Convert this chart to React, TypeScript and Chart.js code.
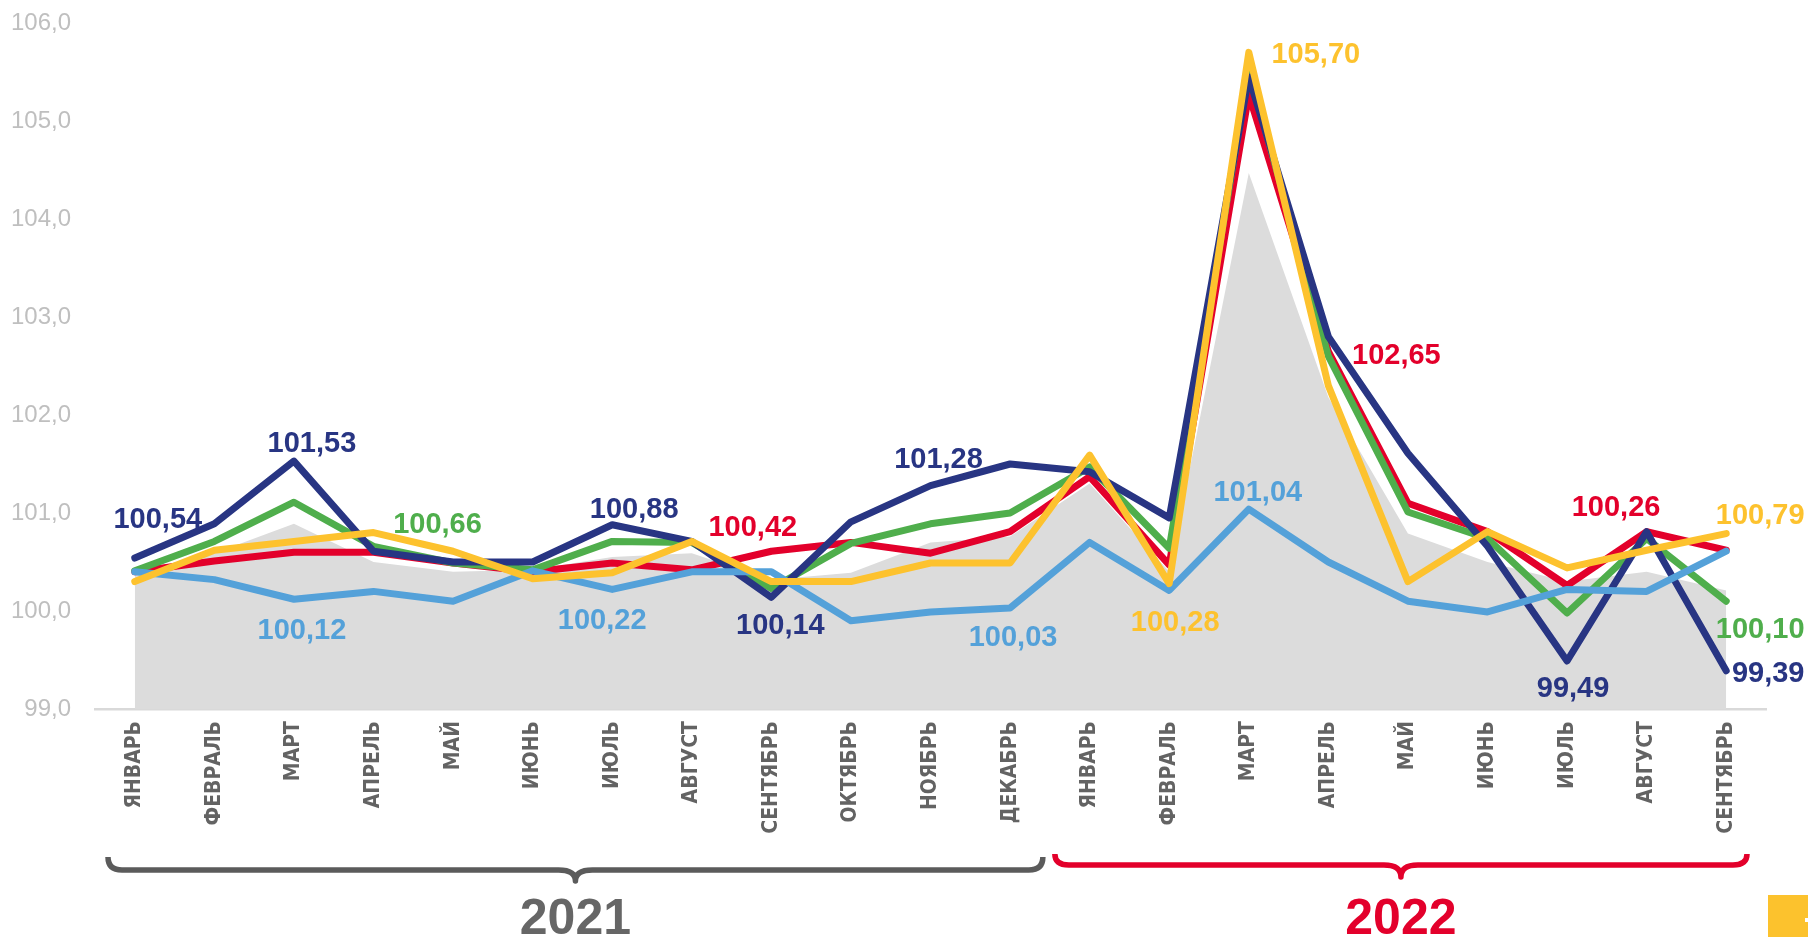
import React, { useEffect, useRef } from 'react';
import { Chart, registerables } from 'chart.js';

Chart.register(...registerables);

// ---------- data ----------
const months = [
  'ЯНВАРЬ', 'ФЕВРАЛЬ', 'МАРТ', 'АПРЕЛЬ', 'МАЙ', 'ИЮНЬ', 'ИЮЛЬ', 'АВГУСТ', 'СЕНТЯБРЬ', 'ОКТЯБРЬ', 'НОЯБРЬ', 'ДЕКАБРЬ',
  'ЯНВАРЬ', 'ФЕВРАЛЬ', 'МАРТ', 'АПРЕЛЬ', 'МАЙ', 'ИЮНЬ', 'ИЮЛЬ', 'АВГУСТ', 'СЕНТЯБРЬ',
];

const navySeries = [100.54, 100.89, 101.53, 100.61, 100.5, 100.5, 100.88, 100.71, 100.14, 100.91, 101.28, 101.5,
  101.42, 100.95, 105.45, 102.8, 101.61, 100.66, 99.49, 100.81, 99.39];

const greenSeries = [100.41, 100.71, 101.11, 100.66, 100.49, 100.42, 100.71, 100.7, 100.23, 100.69, 100.89, 101.0,
  101.47, 100.64, 105.52, 102.6, 101.01, 100.74, 99.98, 100.74, 100.1];

const redSeries = [100.4, 100.51, 100.6, 100.6, 100.49, 100.4, 100.49, 100.42, 100.61, 100.7, 100.59, 100.81,
  101.37, 100.47, 105.27, 102.65, 101.1, 100.81, 100.26, 100.81, 100.62];

const yellowSeries = [100.3, 100.62, 100.71, 100.8, 100.61, 100.33, 100.39, 100.71, 100.3, 100.3, 100.49, 100.49,
  101.59, 100.28, 105.7, 102.3, 100.3, 100.81, 100.44, 100.62, 100.79];

const blueSeries = [100.4, 100.32, 100.12, 100.2, 100.1, 100.41, 100.22, 100.4, 100.4, 99.9, 99.99, 100.03,
  100.7, 100.21, 101.04, 100.5, 100.1, 99.99, 100.22, 100.2, 100.61];

const graySeries = [100.4, 100.59, 100.89, 100.5, 100.4, 100.42, 100.55, 100.59, 100.32, 100.39, 100.7, 100.76,
  101.3, 100.4, 104.47, 102.18, 100.79, 100.5, 100.3, 100.4, 100.21];

const yMin = 99;
const yMax = 106;
const yStep = 1;

const years = ['2021', '2022'];
const yearSpans = [[0, 11], [12, 20]];

// ---------- styles ----------
const C_NAVY = '#283583';
const C_GREEN = '#4fae4c';
const C_RED = '#e3002b';
const C_YELLOW = '#fdc22e';
const C_BLUE = '#54a1d9';
const C_GRAY = '#dcdcdc';

// dataset index, point index, label offset from point (px)
const valueLabels = [
  { ds: 2, i: 0, dx: 23, dy: -41 },
  { ds: 2, i: 2, dx: 18, dy: -20 },
  { ds: 2, i: 6, dx: 22, dy: -17 },
  { ds: 2, i: 8, dx: 9, dy: 26 },
  { ds: 2, i: 10, dx: 8, dy: -28 },
  { ds: 2, i: 18, dx: 6, dy: 26 },
  { ds: 2, i: 20, dx: 42, dy: 1 },
  { ds: 3, i: 3, dx: 64, dy: -24 },
  { ds: 3, i: 20, dx: 34, dy: 26 },
  { ds: 4, i: 7, dx: 61, dy: -44 },
  { ds: 4, i: 15, dx: 68, dy: 2 },
  { ds: 4, i: 18, dx: 49, dy: -80 },
  { ds: 1, i: 2, dx: 8, dy: 29 },
  { ds: 1, i: 6, dx: -10, dy: 29 },
  { ds: 1, i: 11, dx: 3, dy: 27 },
  { ds: 1, i: 14, dx: 9, dy: -19 },
  { ds: 0, i: 14, dx: 67, dy: 0 },
  { ds: 0, i: 13, dx: 6, dy: 37 },
  { ds: 0, i: 20, dx: 34, dy: -20 },
];

const fmt2 = (v: number) => v.toFixed(2).replace('.', ',');
const fmt1 = (v: number) => v.toFixed(1).replace('.', ',');

function drawBrace(ctx: CanvasRenderingContext2D, x0: number, x1: number, yLine: number, yTop: number, yTip: number) {
  const cx = (x0 + x1) / 2;
  const r = 14;
  const c = 17;
  ctx.beginPath();
  ctx.moveTo(x0, yTop);
  ctx.quadraticCurveTo(x0, yLine, x0 + r, yLine);
  ctx.lineTo(cx - c, yLine);
  ctx.quadraticCurveTo(cx, yLine, cx, yTip);
  ctx.quadraticCurveTo(cx, yLine, cx + c, yLine);
  ctx.lineTo(x1 - r, yLine);
  ctx.quadraticCurveTo(x1, yLine, x1, yTop);
  ctx.stroke();
}

const overlayPlugin = {
  id: 'overlay',
  afterDatasetsDraw(chart: any) {
    const ctx: CanvasRenderingContext2D = chart.ctx;
    ctx.save();
    ctx.font = 'bold 29px "Liberation Sans", Arial, sans-serif';
    ctx.textAlign = 'center';
    ctx.textBaseline = 'alphabetic';
    for (const l of valueLabels) {
      const ds = chart.data.datasets[l.ds];
      const pt = chart.getDatasetMeta(l.ds).data[l.i];
      const v = ds.data[l.i] as number;
      ctx.fillStyle = ds.borderColor;
      ctx.fillText(fmt2(v), pt.x + l.dx, pt.y + l.dy + 10.5);
    }
    ctx.restore();
  },
  afterDraw(chart: any) {
    const ctx: CanvasRenderingContext2D = chart.ctx;
    const xs = chart.scales.x;
    const w = (xs.right - xs.left) / months.length;
    const edge = (i: number) => xs.left + i * w;
    ctx.save();
    ctx.lineWidth = 5.5;
    ctx.lineCap = 'butt';
    ctx.lineJoin = 'round';
    // 2021
    const a0 = edge(yearSpans[0][0]) + 13;
    const a1 = edge(yearSpans[0][1] + 1) - 7;
    ctx.strokeStyle = '#5b5b5b';
    drawBrace(ctx, a0, a1, 870, 857, 881);
    // 2022
    const b0 = edge(yearSpans[1][0]) + 5;
    const b1 = edge(yearSpans[1][1] + 1) - 19;
    ctx.strokeStyle = C_RED;
    drawBrace(ctx, b0, b1, 865, 854, 877);

    ctx.font = 'bold 50px "Liberation Sans", Arial, sans-serif';
    ctx.textAlign = 'center';
    ctx.textBaseline = 'alphabetic';
    ctx.fillStyle = '#666666';
    ctx.fillText(years[0], (a0 + a1) / 2, 934);
    ctx.fillStyle = C_RED;
    ctx.fillText(years[1], (b0 + b1) / 2, 934);

    // small yellow badge at the corner
    ctx.fillStyle = '#fcc22d';
    ctx.fillRect(1768, 895, 40, 42);
    ctx.fillStyle = '#ffffff';
    ctx.fillRect(1805, 918, 3, 4);
    ctx.restore();
  },
};

export default function App() {
  const ref = useRef<HTMLCanvasElement | null>(null);

  useEffect(() => {
    if (!ref.current) return;
    const line = (data: number[], color: string, order: number) => ({
      data,
      borderColor: color,
      backgroundColor: color,
      borderWidth: 7,
      pointRadius: 0,
      pointHoverRadius: 0,
      tension: 0,
      fill: false,
      borderJoinStyle: 'round' as const,
      borderCapStyle: 'round' as const,
      order,
    });
    const chart = new Chart(ref.current, {
      type: 'line',
      data: {
        labels: months,
        datasets: [
          line(yellowSeries, C_YELLOW, 1),
          line(blueSeries, C_BLUE, 2),
          line(navySeries, C_NAVY, 3),
          line(greenSeries, C_GREEN, 4),
          line(redSeries, C_RED, 5),
          {
            data: graySeries,
            borderColor: '#ffffff',
            backgroundColor: C_GRAY,
            borderWidth: 0,
            pointRadius: 0,
            tension: 0,
            fill: 'start',
            order: 6,
          },
        ],
      },
      options: {
        responsive: false,
        animation: false,
        events: [],
        layout: { padding: { top: 0, right: 42, bottom: 0, left: 0 } },
        plugins: {
          legend: { display: false },
          tooltip: { enabled: false },
        },
        scales: {
          x: {
            type: 'category',
            offset: true,
            grid: { display: false, drawTicks: false },
            border: { display: true, color: '#d9d9d9', width: 2.5 },
            ticks: {
              autoSkip: false,
              minRotation: 90,
              maxRotation: 90,
              padding: 12,
              color: '#636363',
              font: { family: '"Liberation Sans Narrow", "DejaVu Sans Condensed", sans-serif', size: 21, weight: 'bold' },
            },
            afterFit: (s: any) => { s.height = 228; },
          },
          y: {
            min: yMin,
            max: yMax,
            grid: { display: false, drawTicks: false },
            border: { display: false },
            ticks: {
              stepSize: yStep,
              padding: 24,
              color: '#bfbfbf',
              font: { family: '"Liberation Sans", Arial, sans-serif', size: 24 },
              callback: (v: any) => fmt1(Number(v)),
            },
            afterFit: (s: any) => {
              s.width = 95;
              s.paddingTop = 23;
              s.paddingBottom = 0;
            },
          },
        },
      },
      plugins: [overlayPlugin],
    });
    return () => chart.destroy();
  }, []);

  return (
    <div style={{ position: 'fixed', left: 0, top: 0, width: 1808, height: 937, background: '#ffffff' }}>
      <canvas ref={ref} width={1808} height={937} style={{ width: 1808, height: 937, display: 'block' }} />
    </div>
  );
}
